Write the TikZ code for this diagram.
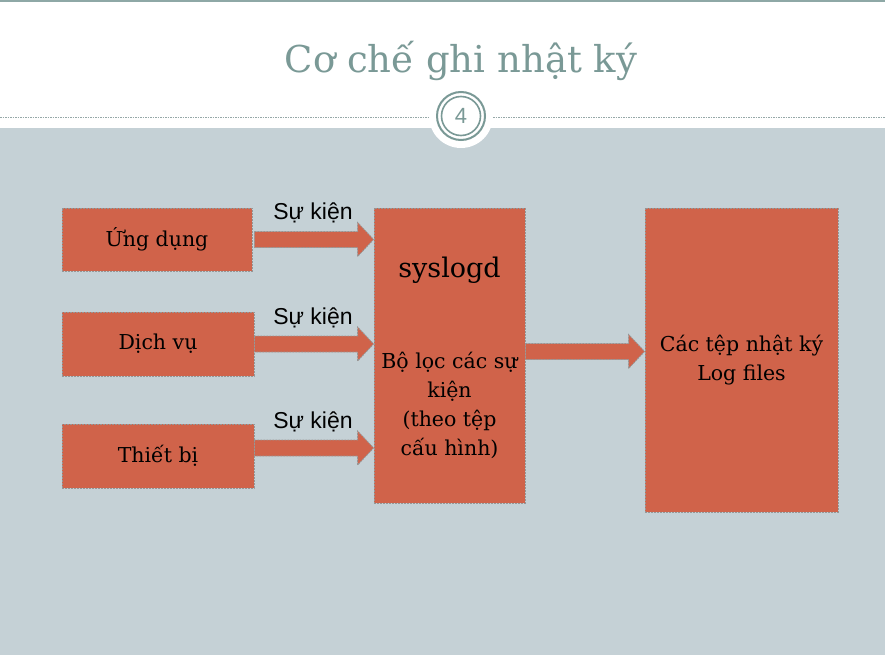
\documentclass[tikz,border=0pt]{standalone}
\usepackage{fontspec}
\setmainfont{DejaVu Serif}
\newfontfamily\sansf{Liberation Sans}
\usetikzlibrary{calc}
\definecolor{bggray}{RGB}{197,209,214}
\definecolor{boxfill}{RGB}{208,99,74}
\definecolor{titlecol}{RGB}{122,153,150}
\definecolor{bordergray}{RGB}{150,150,150}
\definecolor{dotgray}{RGB}{150,168,168}
\tikzset{
  box/.style={draw=bordergray, dash pattern=on 2pt off 1pt, line width=0.8pt, fill=boxfill,
    inner sep=0pt, align=center, font=\fontsize{20.5}{29}\selectfont},
  blockarrow/.style={draw=bordergray, dash pattern=on 2pt off 1pt, line width=0.8pt, fill=boxfill},
  evlabel/.style={anchor=base, inner sep=0pt, font=\sansf\fontsize{23}{23}\selectfont},
  boxtext/.style={inner sep=0pt, align=center}
}
\newcommand\blockarr[2]{%
  \filldraw[blockarrow] ($(#1)+(0,-8)$) -- ($(#2)+(-16,-8)$) -- ($(#2)+(-16,-17)$) -- (#2)
    -- ($(#2)+(-16,17)$) -- ($(#2)+(-16,8)$) -- ($(#1)+(0,8)$) -- cycle;}
\begin{document}
\begin{tikzpicture}[x=1pt,y=-1pt]
\useasboundingbox (0,0) rectangle (885,655);
\fill[white] (0,0) rectangle (885,655);
\fill[bggray] (0,128) rectangle (885,655);
\draw[titlecol!85!white, line width=2pt] (0,1) -- (885,1);
% title
\node[anchor=base, inner sep=0pt, text=titlecol, font=\fontsize{37}{37}\selectfont] (title) at (461,73) {Cơ chế ghi nhật ký};
% dotted separator
\draw[dotgray, line width=1pt, dash pattern=on 1.5pt off 1pt] (0,118) -- (430,118);
\draw[dotgray, line width=1pt, dash pattern=on 1.5pt off 1pt] (493,118) -- (885,118);
% slide number
\fill[white] (461,116) circle (32);
\draw[titlecol, line width=2pt] (461,116) circle (24);
\draw[titlecol, line width=1.6pt] (461,116) circle (19.5);
\node[inner sep=0pt, text=titlecol, font=\sansf\fontsize{22}{22}\selectfont] (num) at (461,116) {4};
% boxes
\node[box, minimum width=190pt, minimum height=63pt] (app) at (157,239.5) {Ứng dụng};
\node[box, minimum width=192pt, minimum height=64pt] (svc) at (158,344) {Dịch vụ};
\node[box, minimum width=192pt, minimum height=64pt] (dev) at (158,456) {Thiết bị};
\node[box, minimum width=151pt, minimum height=295pt] (sys) at (449.5,355.5) {};
\node[box, minimum width=193pt, minimum height=304pt] (logs) at (741.5,360) {Các tệp nhật ký\\Log files};
\node[boxtext, font=\fontsize{27}{27}\selectfont] (sysname) at ($(sys.north)+(0,63)$) {syslogd};
\node[boxtext, font=\fontsize{20.5}{29}\selectfont] (sysfilter) at ($(sys.north)+(0,198)$) {Bộ lọc các sự\\kiện\\(theo tệp\\cấu hình)};
% arrows
\coordinate (a1s) at ([xshift=2pt]app.east);
\coordinate (a1e) at (sys.west |- a1s);
\coordinate (a2s) at ([xshift=0pt]svc.east);
\coordinate (a2e) at (sys.west |- a2s);
\coordinate (a3s) at ([yshift=8pt]dev.east);
\coordinate (a3e) at (sys.west |- a3s);
\coordinate (a4s) at ([yshift=4pt]sys.east);
\coordinate (a4e) at (logs.west |- a4s);
\blockarr{a1s}{a1e}
\blockarr{a2s}{a2e}
\blockarr{a3s}{a3e}
\blockarr{a4s}{a4e}
\node[evlabel] (ev1) at ($($(a1s)!0.5!(a1e)$)+(-1,-20)$) {Sự kiện};
\node[evlabel] (ev2) at ($($(a2s)!0.5!(a2e)$)+(-1,-20)$) {Sự kiện};
\node[evlabel] (ev3) at ($($(a3s)!0.5!(a3e)$)+(-1,-20)$) {Sự kiện};
\end{tikzpicture}
\end{document}
